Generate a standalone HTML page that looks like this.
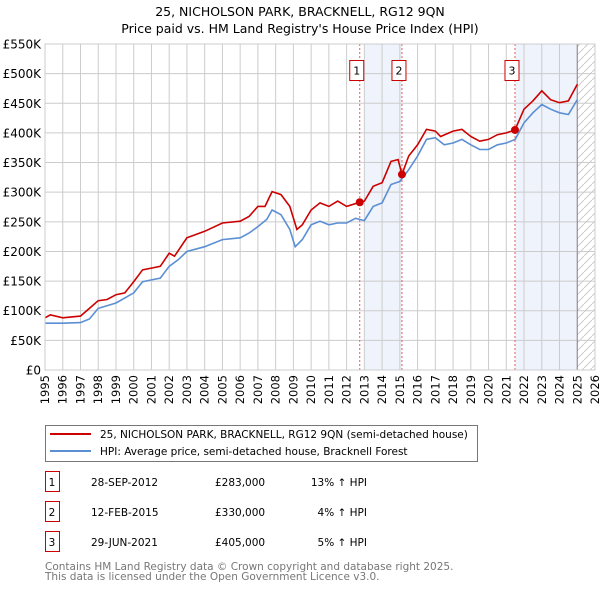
<!DOCTYPE html>
<html><head><meta charset="utf-8"><style>
body{margin:0;width:600px;height:590px;background:#fff;font-family:"Liberation Sans","DejaVu Sans",sans-serif;overflow:hidden}
svg text{font-family:"DejaVu Sans","Liberation Sans",sans-serif}
</style></head><body>
<svg id="chart" width="600" height="590" xmlns="http://www.w3.org/2000/svg">
<text x="300" y="16" text-anchor="middle" font-size="12.5" fill="#000">25, NICHOLSON PARK, BRACKNELL, RG12 9QN</text>
<text x="300" y="33" text-anchor="middle" font-size="12.5" fill="#000">Price paid vs. HM Land Registry's House Price Index (HPI)</text>
<g id="plot"></g>
<g>
<rect x="45.5" y="425.5" width="432" height="36" fill="#fff" stroke="#777"/>
<line x1="50" y1="434" x2="91" y2="434" stroke="#cc0000" stroke-width="2"/>
<text x="100" y="438" font-size="10.5">25, NICHOLSON PARK, BRACKNELL, RG12 9QN (semi-detached house)</text>
<line x1="50" y1="451" x2="91" y2="451" stroke="#5b8fd4" stroke-width="2"/>
<text x="100" y="455" font-size="10.5">HPI: Average price, semi-detached house, Bracknell Forest</text>
</g>
<g id="table" font-size="10.5"></g>
<text x="45" y="570" font-size="10.5" fill="#777">Contains HM Land Registry data © Crown copyright and database right 2025.</text>
<text x="45" y="580" font-size="10.5" fill="#777">This data is licensed under the Open Government Licence v3.0.</text>
</svg>
<script>
const hpiYears=[1995,1996,1997,1997.5,1998,1999,2000,2000.5,2001,2001.5,2002,2002.5,2003,2004,2005,2006,2006.5,2007,2007.5,2007.8,2008.3,2008.8,2009.1,2009.5,2010,2010.5,2011,2011.5,2012,2012.5,2013,2013.5,2014,2014.5,2015,2015.5,2016,2016.5,2017,2017.5,2018,2018.5,2019,2019.5,2020,2020.5,2021,2021.5,2022,2022.5,2023,2023.5,2024,2024.5,2025];
const hpiValues=[79,79,80,86,104,113,130,149,152,155,175,186,200,208,220,223,231,242,254,270,262,237,208,220,245,251,245,248,248,256,252,276,282,313,318,338,361,389,392,380,383,389,380,372,372,380,383,389,417,434,448,440,434,431,456];
const priceYears=[1995,1995.3,1996,1997,1997.5,1998,1998.5,1999,1999.5,2000,2000.5,2001,2001.5,2002,2002.3,2003,2004,2005,2006,2006.5,2007,2007.4,2007.8,2008.3,2008.8,2009.2,2009.5,2010,2010.5,2011,2011.5,2012,2012.74,2013,2013.5,2014,2014.5,2014.9,2015.12,2015.5,2016,2016.5,2017,2017.3,2018,2018.5,2019,2019.5,2020,2020.5,2021,2021.49,2022,2022.5,2023,2023.5,2024,2024.5,2025];
const priceValues=[88,93,88,91,104,117,119,127,130,149,169,172,175,197,192,223,234,248,251,259,276,276,301,296,276,237,245,270,282,276,285,276,283,285,310,316,352,355,330,361,380,406,403,394,403,406,394,386,389,397,400,405,440,454,471,456,451,454,482];
const saleLabels=["1","2","3"];
const saleYears=[2012.74,2015.12,2021.49];
const saleValues=[283,330,405];
const saleDates=["28-SEP-2012","12-FEB-2015","29-JUN-2021"];
const salePrices=["£283,000","£330,000","£405,000"];
const saleDiffs=["13% ↑ HPI","4% ↑ HPI","5% ↑ HPI"];
const yTicks=[0,50,100,150,200,250,300,350,400,450,500,550];
const yTickLabels=["£0","£50K","£100K","£150K","£200K","£250K","£300K","£350K","£400K","£450K","£500K","£550K"];
const xTicks=[1995,1996,1997,1998,1999,2000,2001,2002,2003,2004,2005,2006,2007,2008,2009,2010,2011,2012,2013,2014,2015,2016,2017,2018,2019,2020,2021,2022,2023,2024,2025,2026];

const X0=45,X1=595,Y0=370,Y1=44;
const x=y=>X0+(y-1995)*(X1-X0)/31;
const yv=v=>Y0-v*(Y0-Y1)/550;
const NS="http://www.w3.org/2000/svg";
const plot=document.getElementById('plot');
function mk(tag,attrs,parent){const e=document.createElementNS(NS,tag);for(const k in attrs)e.setAttribute(k,attrs[k]);(parent||plot).appendChild(e);return e;}

const sh1=mk('rect',{x:x(2013),y:Y1,width:x(saleYears[1])-x(2013),height:Y0-Y1,fill:'#eef3fc'});


const sh2=mk('rect',{x:x(saleYears[2]),y:Y1,width:x(2025)-x(saleYears[2]),height:Y0-Y1,fill:'#eef3fc'});


const defs=mk('defs',{});
const pat=mk('pattern',{id:'hatch',width:8,height:8,patternUnits:'userSpaceOnUse'},defs);
mk('path',{d:'M0,8 L8,0',stroke:'#ccc','stroke-width':1},pat);
const hr=mk('rect',{x:x(2025),y:Y1,width:X1-x(2025),height:Y0-Y1,fill:'url(#hatch)'});



yTicks.forEach((t,i)=>{
 const l=mk('line',{x1:X0,x2:X1,y1:yv(t),y2:yv(t),stroke:'#ccc','stroke-width':1});
 
 
 const tx=mk('text',{x:41,y:yv(t)+4.5,'text-anchor':'end','font-size':12});
 tx.textContent=yTickLabels[i];
 
 
});
xTicks.forEach(t=>{
 const l=mk('line',{x1:x(t),x2:x(t),y1:Y1,y2:Y0,stroke:'#ccc','stroke-width':1});
 
 
 const tx=mk('text',{x:0,y:0,'text-anchor':'end','font-size':11.5,transform:`translate(${x(t)+4},375) rotate(-90)`});
 tx.textContent=t;
 
 
});
const nl=mk('line',{x1:x(2025),x2:x(2025),y1:Y1,y2:Y0,stroke:'#888','stroke-width':1});



saleYears.forEach((s,i)=>{
 const l=mk('line',{x1:x(s),x2:x(s),y1:Y1,y2:Y0,stroke:'#e06060','stroke-width':1,'stroke-dasharray':'2,2'});
 
 
 const b=mk('rect',{x:x(s)-10,y:60.5,width:14,height:20,fill:'#fff',stroke:'#cc0000'});
 
 
 const t=mk('text',{x:x(s)-3,y:74.5,'text-anchor':'middle','font-size':11});
 t.textContent=saleLabels[i];
 
 
});

function path(xs,vs){return xs.map((a,i)=>(i?'L':'M')+x(a).toFixed(1)+','+yv(vs[i]).toFixed(1)).join(' ');}
const hp=mk('path',{d:path(hpiYears,hpiValues),fill:'none',stroke:'#5b8fd4','stroke-width':1.6});


const pp=mk('path',{d:path(priceYears,priceValues),fill:'none',stroke:'#cc0000','stroke-width':1.6});


saleYears.forEach((s,i)=>{
 const c=mk('circle',{cx:x(s),cy:yv(saleValues[i]),r:4,fill:'#cc0000'});
 
 
});
mk('rect',{x:X0,y:Y1,width:X1-X0,height:Y0-Y1,fill:'none',stroke:'#ccc'});

const tb=document.getElementById('table');
saleYears.forEach((s,i)=>{
 const yy=483+i*30;
 const b=mk('rect',{x:45.5,y:yy-11.5,width:14,height:20,fill:'#fff',stroke:'#cc0000'},tb);
 
 
 const cells=[[52,saleLabels[i],'middle'],[91,saleDates[i],'start'],[215,salePrices[i],'start'],[367,saleDiffs[i],'end']];
 cells.forEach(c=>{const t=mk('text',{x:c[0],y:yy+3,'text-anchor':c[2]},tb);t.textContent=c[1];
  
  });
});
</script>
</body></html>
